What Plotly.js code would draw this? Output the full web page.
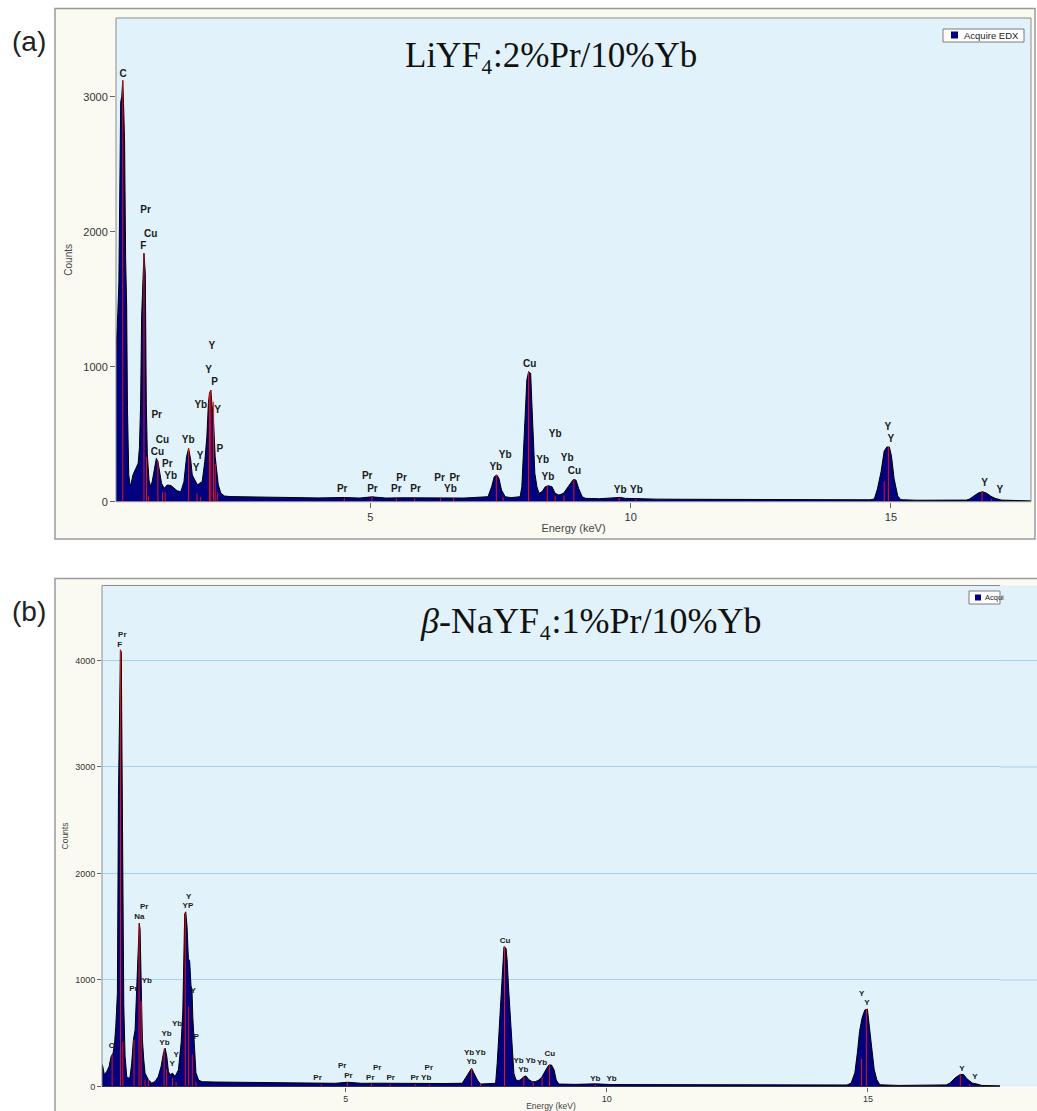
<!DOCTYPE html>
<html><head><meta charset="utf-8">
<script src="https://cdn.plot.ly/plotly-3.0.1.min.js"></script>
<style>html,body{margin:0;padding:0;background:#fff}#chart{width:1037px;height:1111px}</style>
</head><body><div id="chart"></div>
<script>
// ---------- Panel (a): LiYF4:2%Pr/10%Yb ----------
const specA_keV = [0.115,0.125,0.15,0.17,0.19,0.205,0.225,0.245,0.26,0.28,0.30,0.32,0.335,0.345,0.36,0.38,0.40,0.44,0.49,0.54,0.565,0.588,0.607,0.633,0.652,0.668,0.678,0.697,0.716,0.748,0.78,0.81,0.86,0.89,0.92,0.95,0.99,1.04,1.10,1.17,1.23,1.29,1.36,1.42,1.47,1.51,1.55,1.58,1.63,1.68,1.72,1.77,1.82,1.86,1.89,1.91,1.936,1.96,1.99,2.02,2.05,2.08,2.13,2.2,2.3,2.6,3.0,3.5,4.0,4.5,4.8,5.03,5.3,5.6,6.0,6.4,6.8,7.1,7.26,7.33,7.38,7.43,7.47,7.52,7.59,7.7,7.877,7.91,7.94,7.97,8.006,8.04,8.08,8.10,8.13,8.16,8.20,8.24,8.30,8.36,8.42,8.49,8.55,8.62,8.71,8.78,8.84,8.90,8.95,9.0,9.07,9.13,9.4,9.7,9.8,9.9,10.1,10.5,11.0,12.0,13.0,14.0,14.6,14.68,14.74,14.81,14.87,14.92,14.97,15.01,15.06,15.13,15.19,15.5,16.0,16.45,16.51,16.6,16.68,16.76,16.84,16.92,17.0,17.12,17.4,17.69];
const specA_counts = [1100,1170,1400,1620,2300,2960,3000,3120,2950,2670,1800,1450,700,360,200,136,124,198,247,284,400,728,1370,1753,1840,1750,1691,728,358,160,111,148,259,321,296,210,136,99,124,120,100,81,74,148,333,395,309,198,160,124,136,148,296,481,728,802,827,728,580,333,235,124,62,42,38,36,33,30,28,31,27,36,27,29,26,28,27,30,37,111,185,198,173,86,37,30,37,111,383,704,901,963,951,753,457,210,111,62,75,111,118,111,62,49,62,99,136,165,160,99,37,25,22,28,32,25,22,19,18,16,14,13,14,20,94,221,375,405,405,338,171,43,15,11,10,12,20,45,65,74,62,40,25,12,8,6];

const redA_keV = [0.245,0.652,0.70,0.74,0.92,1.01,1.06,1.51,1.67,1.74,1.91,1.936,1.99,2.02,2.06,4.5,5.03,5.5,5.85,6.35,6.6,7.42,7.55,8.04,8.40,8.55,8.72,8.91,9.78,10.1,14.87,14.95,16.75,16.93];
const redA_counts = [3120,1840,330,40,300,70,70,395,60,35,800,827,740,280,70,28,36,26,24,26,26,198,35,963,115,40,45,165,30,20,150,405,72,18];

const labA_text = ["C","Pr","Cu","F","Y","Y","P","Yb","Y","Pr","Cu","Yb","Cu","Y","P","Pr","Y","Yb","Pr","Pr","Pr","Pr","Pr","Pr","Pr","Pr","Yb","Yb","Yb","Cu","Yb","Yb","Yb","Yb","Cu","Yb","Yb","Y","Y","Y","Y"];
const labA_keV = [0.254,0.684,0.78,0.64,1.956,1.892,2.008,1.744,2.065,0.896,1.005,1.50,0.909,1.73,2.11,1.10,1.653,1.166,4.46,4.94,5.04,5.6,5.5,5.87,6.33,6.62,6.54,7.41,7.59,8.06,8.55,8.31,8.78,8.41,8.92,9.80,10.11,14.94,15.0,16.8,17.09];
const labA_counts = [3168,2159,1980,1889,1153,975,884,711,679,637,457,457,366,333,390,272,247,185,94,190,94,175,94,94,175,175,94,255,341,1018,499,304,319,181,222,82,82,546,459,133,81];

const ticksA_x = [5,10,15];
const ticksA_y = [0,1000,2000,3000];

// ---------- Panel (b): β-NaYF4:1%Pr/10%Yb ----------
const specB_keV = [0.331,0.339,0.377,0.422,0.467,0.505,0.543,0.569,0.595,0.626,0.646,0.671,0.684,0.70,0.71,0.729,0.748,0.773,0.805,0.837,0.869,0.90,0.932,0.965,0.997,1.029,1.045,1.06,1.08,1.105,1.131,1.156,1.22,1.284,1.348,1.41,1.463,1.508,1.54,1.572,1.603,1.635,1.68,1.73,1.795,1.846,1.878,1.897,1.915,1.935,1.96,1.985,2.01,2.035,2.055,2.07,2.10,2.13,2.18,2.25,2.5,3.0,3.5,4.0,4.5,4.8,5.03,5.3,5.6,6.0,6.5,6.9,7.15,7.23,7.29,7.36,7.41,7.45,7.52,7.58,7.7,7.87,7.90,7.93,7.96,8.0,8.03,8.07,8.09,8.12,8.16,8.19,8.22,8.26,8.31,8.34,8.41,8.45,8.5,8.57,8.63,8.70,8.76,8.83,8.89,8.94,8.99,9.03,9.08,9.4,9.78,10.1,11,12,13,14,14.6,14.68,14.75,14.80,14.84,14.89,14.94,14.99,15.03,15.07,15.12,15.17,15.23,15.6,16.2,16.5,16.57,16.67,16.77,16.83,16.90,17.0,17.09,17.18,17.53];
const specB_counts = [200,203,110,141,188,282,313,391,563,876,2723,4006,4100,4080,3287,1815,767,282,94,78,94,219,438,532,876,1330,1534,1480,1064,438,250,125,63,31,47,94,188,313,360,282,141,110,125,94,156,407,690,1220,1620,1640,1500,1200,1180,950,900,650,370,130,60,45,42,38,34,31,33,30,40,30,31,28,30,28,30,30,77,139,171,130,61,23,25,30,218,468,781,1156,1313,1298,1188,906,562,311,124,61,55,61,92,99,67,45,45,61,92,155,202,202,155,61,23,20,25,18,16,14,12,12,14,32,129,323,517,647,718,727,550,323,162,65,16,10,9,15,32,81,113,113,71,32,23,10,6];

const redB_keV = [0.525,0.684,0.73,0.945,1.041,1.08,1.156,1.22,1.52,1.57,1.68,1.75,1.925,1.99,2.06,2.13,4.53,5.03,5.49,5.85,6.33,6.6,7.41,7.58,8.04,8.41,8.59,8.76,8.9,9.78,14.88,14.97,16.77,16.95];
const redB_counts = [300,4100,420,440,1530,800,60,60,355,160,80,40,1630,750,300,40,20,40,25,20,20,20,171,25,1313,92,40,80,202,15,260,727,113,25];

const labB_text = ["Pr","F","Pr","Na","Pr","Yb","O","Yb","Yb","Y","Y","Yb","Y","YP","Y","P","Pr","Pr","Pr","Pr","Pr","Pr","Pr","Pr","Yb","Yb","Yb","Yb","Cu","Yb","Yb","Yb","Yb","Cu","Yb","Yb","Y","Y","Y","Y"];
const labB_keV = [0.72,0.67,1.138,1.048,0.933,1.188,0.518,1.568,1.527,1.75,1.677,1.77,1.99,1.977,2.075,2.135,4.46,4.93,5.05,5.47,5.60,5.86,6.32,6.59,6.54,7.36,7.58,7.41,8.05,8.31,8.54,8.40,8.76,8.91,9.78,10.09,14.88,14.98,16.80,17.05];
const labB_counts = [4235,4145,1681,1587,917,986,376,494,407,297,207,591,1783,1692,899,469,83,192,102,83,171,83,83,171,83,311,311,227,1369,243,243,155,224,305,74,74,873,782,168,90];

const ticksB_x = [5,10,15];
const ticksB_y = [0,1000,2000,3000,4000];

// ---------- helpers ----------
const W = 1037, H = 1111;
const px = v => v / W, py = v => 1 - v / H;
const SANS = 'Liberation Sans, Arial, sans-serif';
const SERIF = 'Liberation Serif, DejaVu Serif, Times New Roman, serif';
const NAVY = '#000080', RED = '#e81414', BLUE_BG = '#e1f2fb', CREAM = '#fafaf2';

function redSegments(xs, hs) {
  const X = [], Y = [];
  xs.forEach((x, i) => { X.push(x, x, null); Y.push(0, hs[i], null); });
  return {X, Y};
}
const rA = redSegments(redA_keV, redA_counts);
const rB = redSegments(redB_keV, redB_counts);

const traces = [
  {type:'scatter', mode:'lines', x:specA_keV, y:specA_counts, xaxis:'x', yaxis:'y',
   fill:'tozeroy', fillcolor:NAVY, line:{color:'#000000', width:1}, hoverinfo:'skip', showlegend:false},
  {type:'scatter', mode:'lines', x:rA.X, y:rA.Y, xaxis:'x', yaxis:'y',
   line:{color:RED, width:1}, hoverinfo:'skip', showlegend:false, connectgaps:false},
  {type:'scatter', mode:'text', x:labA_keV, y:labA_counts, text:labA_text, xaxis:'x', yaxis:'y',
   textposition:'middle center', textfont:{family:SANS, size:10, color:'#1a1a1a', weight:'bold'},
   hoverinfo:'skip', showlegend:false, cliponaxis:false},
  {type:'scatter', mode:'lines', x:specB_keV, y:specB_counts, xaxis:'x2', yaxis:'y2',
   fill:'tozeroy', fillcolor:NAVY, line:{color:'#000000', width:1}, hoverinfo:'skip', showlegend:false},
  {type:'scatter', mode:'lines', x:rB.X, y:rB.Y, xaxis:'x2', yaxis:'y2',
   line:{color:RED, width:1}, hoverinfo:'skip', showlegend:false, connectgaps:false},
  {type:'scatter', mode:'text', x:labB_keV, y:labB_counts, text:labB_text, xaxis:'x2', yaxis:'y2',
   textposition:'middle center', textfont:{family:SANS, size:8, color:'#1a1a1a', weight:'bold'},
   hoverinfo:'skip', showlegend:false, cliponaxis:false}
];

const shapes = [
  // panel (a) frame and plot area
  {type:'rect', xref:'paper', yref:'paper', x0:px(55), x1:px(1035), y0:py(539), y1:py(8.5),
   fillcolor:CREAM, line:{color:'#9a9a9a', width:1.5}, layer:'below'},
  {type:'rect', xref:'paper', yref:'paper', x0:px(116), x1:px(1031), y0:py(501.7), y1:py(18),
   fillcolor:BLUE_BG, line:{width:0}, layer:'below'},
  {type:'rect', xref:'paper', yref:'paper', x0:px(116), x1:px(1031), y0:py(501.7), y1:py(18),
   fillcolor:'rgba(0,0,0,0)', line:{color:'#8c8c8c', width:1}, layer:'above'},
  // panel (b) frame and plot area (screenshot cropped at right)
  {type:'rect', xref:'paper', yref:'paper', x0:px(55), x1:px(1045), y0:py(1120), y1:py(578.6),
   fillcolor:CREAM, line:{color:'#9a9a9a', width:1.5}, layer:'below'},
  {type:'rect', xref:'paper', yref:'paper', x0:px(102), x1:px(1037), y0:py(1086.5), y1:py(585.5),
   fillcolor:BLUE_BG, line:{width:0}, layer:'below'},
  {type:'line', xref:'paper', yref:'paper', x0:px(102), x1:px(1000), y0:py(585.5), y1:py(585.5),
   line:{color:'#8c8c8c', width:1}, layer:'above'},
  {type:'line', xref:'paper', yref:'paper', x0:px(102), x1:px(102), y0:py(585.5), y1:py(1086.5),
   line:{color:'#8c8c8c', width:1}, layer:'above'},
  {type:'line', xref:'paper', yref:'paper', x0:px(102), x1:px(1000), y0:py(1086.5), y1:py(1086.5),
   line:{color:'#333333', width:1}, layer:'above'},
  // legend (a)
  {type:'rect', xref:'paper', yref:'paper', x0:px(943), x1:px(1024), y0:py(42), y1:py(29),
   fillcolor:'#ffffff', line:{color:'#7a7a7a', width:1}, layer:'above'},
  {type:'rect', xref:'paper', yref:'paper', x0:px(951), x1:px(958), y0:py(38.5), y1:py(31.5),
   fillcolor:NAVY, line:{width:0}, layer:'above'},
  // legend (b), clipped
  {type:'rect', xref:'paper', yref:'paper', x0:px(969), x1:px(1000), y0:py(604), y1:py(591),
   fillcolor:'#ffffff', line:{color:'#7a7a7a', width:1}, layer:'above'},
  {type:'rect', xref:'paper', yref:'paper', x0:px(975), x1:px(981), y0:py(600.5), y1:py(594.5),
   fillcolor:NAVY, line:{width:0}, layer:'above'}
];
// grid lines of (b) continue in the cropped strip right of the plot area
ticksB_y.filter(v => v > 0).forEach(v => shapes.push(
  {type:'line', xref:'paper', yref:'y2', x0:px(1000), x1:px(1037), y0:v, y1:v,
   line:{color:'#9fd3ee', width:1}, layer:'below'}));

function ann(text, x, y, font, extra) {
  return Object.assign({text, x:px(x), y:py(y), xref:'paper', yref:'paper', showarrow:false,
    xanchor:'center', yanchor:'middle', font}, extra || {});
}
const annotations = [
  ann('(a)', 29, 41, {family:SANS, size:28, color:'#222'}),
  ann('(b)', 29, 611, {family:SANS, size:28, color:'#222'}),
  ann('LiYF\u2084:2%Pr/10%Yb', 551, 56, {family:SERIF, size:35, color:'#111'}),
  ann('<i>β</i>-NaYF\u2084:1%Pr/10%Yb', 590, 621, {family:SERIF, size:36, color:'#111'}),
  ann('Acquire EDX', 962, 35.5, {family:SANS, size:9.5, color:'#222'}, {xanchor:'left'}),
  ann('Acqui', 983, 597.5, {family:SANS, size:7.5, color:'#222'}, {xanchor:'left'})
];

const axisCommon = {ticks:'outside', tickcolor:'#666', showgrid:false, zeroline:false, showline:false, fixedrange:true, automargin:false};

const layout = {
  width:W, height:H, margin:{l:0, r:0, t:0, b:0},
  paper_bgcolor:'#ffffff', plot_bgcolor:'rgba(0,0,0,0)', showlegend:false,
  xaxis: Object.assign({}, axisCommon, {domain:[px(116), px(1031)], range:[0.115, 17.69], anchor:'y',
    tickvals:ticksA_x, ticklen:5, tickfont:{family:SANS, size:11, color:'#333'},
    title:{text:'Energy (keV)', font:{family:SANS, size:11, color:'#444'}, standoff:2}}),
  yaxis: Object.assign({}, axisCommon, {domain:[py(501.7), py(18)], range:[0, 3583], anchor:'x',
    tickvals:ticksA_y, ticklen:5, tickfont:{family:SANS, size:11, color:'#333'},
    title:{text:'Counts', font:{family:SANS, size:10, color:'#444'}, standoff:8}}),
  xaxis2: Object.assign({}, axisCommon, {domain:[px(102), px(1000)], range:[0.331, 17.53], anchor:'y2',
    tickvals:ticksB_x, ticklen:4, tickfont:{family:SANS, size:9, color:'#333'},
    title:{text:'Energy (keV)', font:{family:SANS, size:8.5, color:'#444'}, standoff:0}}),
  yaxis2: Object.assign({}, axisCommon, {domain:[py(1086.5), py(585.5)], range:[0, 4704], anchor:'x2',
    tickvals:ticksB_y, ticklen:4, tickfont:{family:SANS, size:9, color:'#333'},
    showgrid:true, gridcolor:'#9fd3ee', gridwidth:1,
    title:{text:'Counts', font:{family:SANS, size:8.5, color:'#444'}, standoff:5}}),
  shapes, annotations
};

Plotly.newPlot('chart', traces, layout, {displayModeBar:false, staticPlot:true});
</script></body></html>
